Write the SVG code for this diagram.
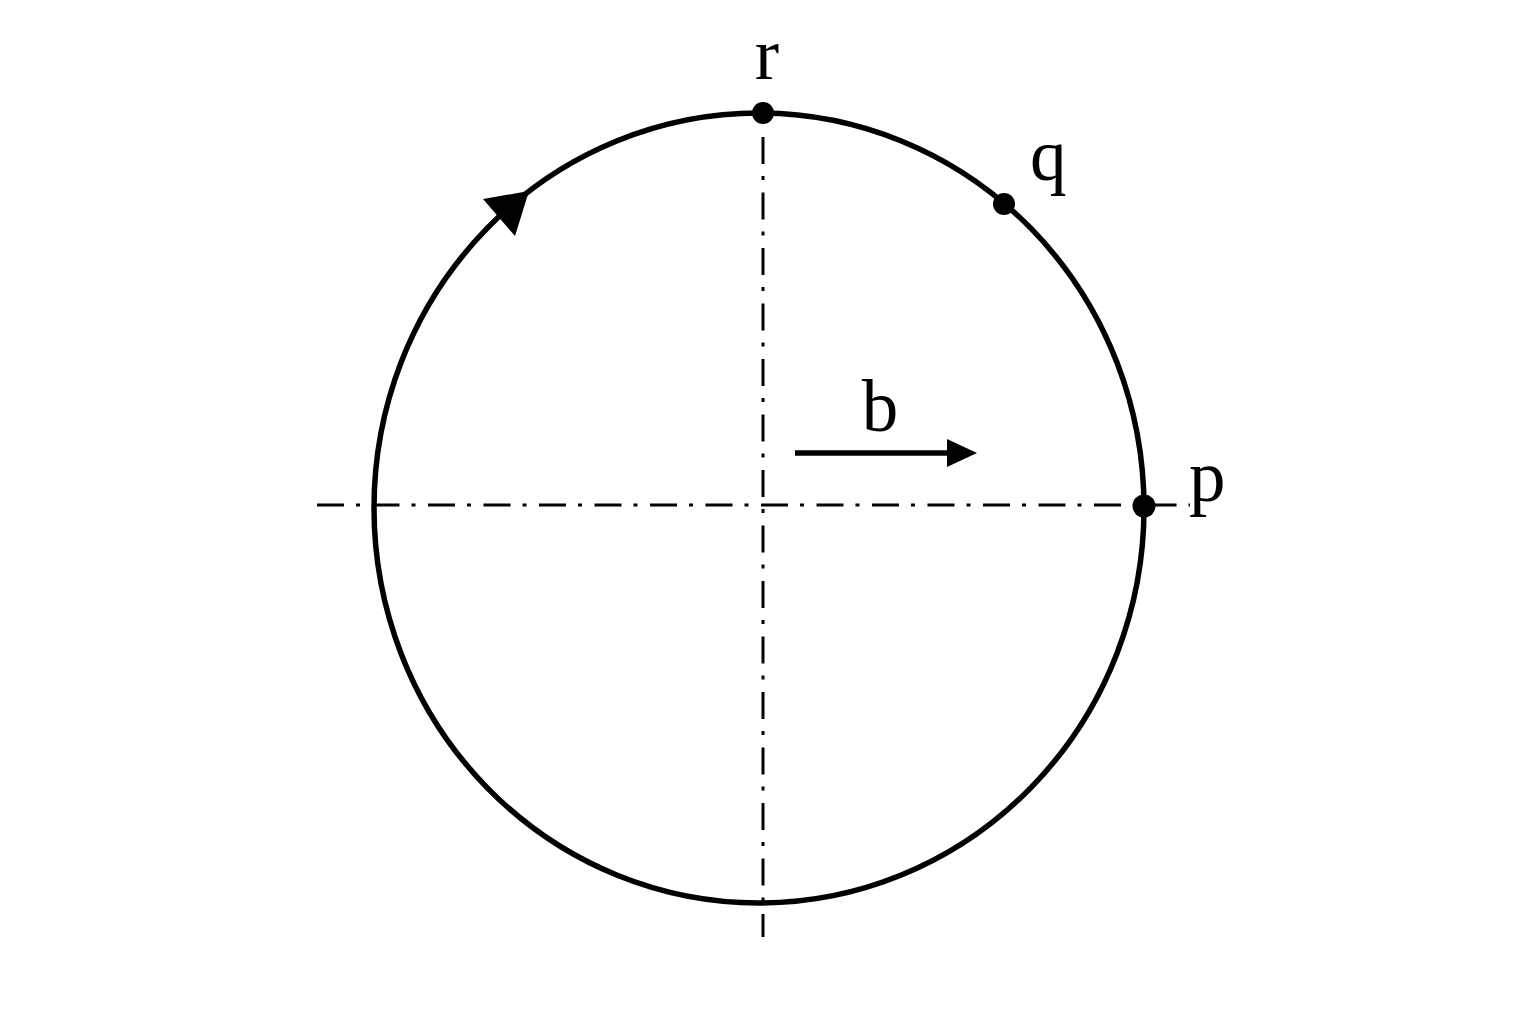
<svg xmlns="http://www.w3.org/2000/svg" width="1536" height="1024" viewBox="0 0 1536 1024">
<style>
.axis{stroke:#000;stroke-width:3;fill:none;stroke-dasharray:27 12 4 12.5}
.curve{stroke:#000;stroke-width:5.5;fill:none}
.lbl{font-family:"Liberation Serif","Times New Roman",serif;font-size:73px;fill:#000}
</style>
<rect width="1536" height="1024" fill="#fff"/>
<g id="connectors">
<line class="axis" x1="317" y1="505" x2="1190" y2="505"/>
<line class="axis" x1="763" y1="137" x2="763" y2="937"/>
<line class="curve" x1="795" y1="453" x2="952" y2="453"/>
<polygon points="977,453 947,439 947,467" fill="#000"/>
</g>
<g id="circle">
<ellipse class="curve" cx="759" cy="508" rx="385" ry="395"/>
<polygon points="529,191 483,199 515,236" fill="#000"/>
</g>
<g id="node-r">
<circle cx="763" cy="113" r="11" fill="#000"/>
<text class="lbl" x="767" y="79" text-anchor="middle">r</text>
</g>
<g id="node-q">
<circle cx="1004" cy="204" r="11" fill="#000"/>
<text class="lbl" x="1030" y="180">q</text>
</g>
<g id="node-p">
<circle cx="1144" cy="506" r="11.5" fill="#000"/>
<text class="lbl" x="1189" y="501">p</text>
</g>
<g id="label-b">
<text class="lbl" x="880" y="431" text-anchor="middle">b</text>
</g>
</svg>
